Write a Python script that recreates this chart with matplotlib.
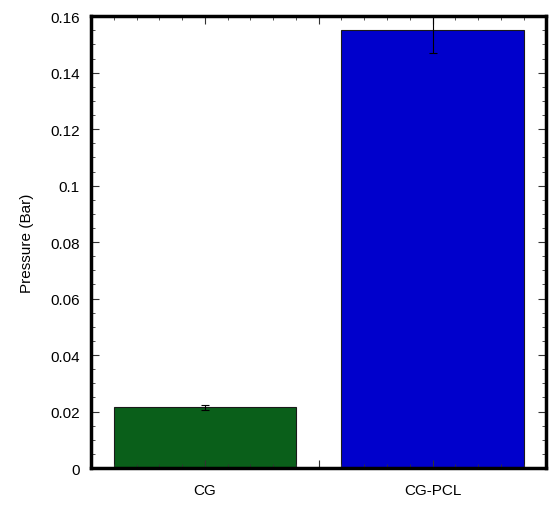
import numpy as np
import matplotlib
matplotlib.use('Agg')
import matplotlib.pyplot as plt
from matplotlib.ticker import MultipleLocator, FuncFormatter

categories = ['CG', 'CG-PCL']
pressure = [0.0215, 0.155]
pressure_err = [0.001, 0.008]
bar_colors = ['#0a5f1a', '#0000cc']

plt.rcParams['font.family'] = ['Liberation Sans', 'DejaVu Sans']

fig = plt.figure(figsize=(5.5, 5.06), dpi=100)
ax = fig.add_axes([0.1655, 0.073, 0.828, 0.893])

x = np.arange(len(categories))
ax.bar(x, pressure, width=0.8, color=bar_colors, edgecolor='#1a1a1a', linewidth=0.8,
       yerr=pressure_err, error_kw=dict(ecolor='black', elinewidth=0.8, capsize=3, capthick=0.8))

ax.set_xlim(-0.5, 1.5)
ax.set_ylim(0, 0.16)
ax.set_xticks([0, 0.5, 1])
ax.set_xticklabels(['CG', '', 'CG-PCL'])
ax.xaxis.set_minor_locator(MultipleLocator(0.1))
ax.yaxis.set_major_locator(MultipleLocator(0.02))
ax.yaxis.set_minor_locator(MultipleLocator(0.005))
ax.yaxis.set_major_formatter(FuncFormatter(lambda v, p: '%g' % round(v, 4)))

ax.tick_params(which='both', direction='in', top=True, right=True, labelsize=11, color='#333333')
ax.tick_params(which='major', length=6, width=0.8, pad=8)
ax.tick_params(which='minor', length=3, width=0.6)
ax.tick_params(axis='x', which='major', pad=11)
for s in ax.spines.values():
    s.set_linewidth(2.5)

ax.set_ylabel('Pressure (Bar)', fontsize=11, labelpad=12)

fig.savefig('out.png', dpi=100)
